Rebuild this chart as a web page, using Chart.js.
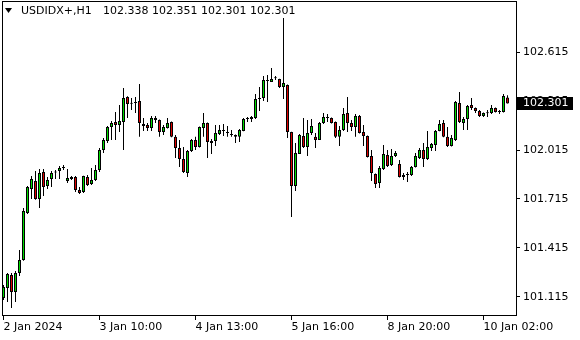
<!DOCTYPE html>
<html><head><meta charset="utf-8">
<script src="https://cdn.jsdelivr.net/npm/chart.js@4.4.1/dist/chart.umd.min.js"></script>
<style>html,body{margin:0;padding:0;background:#fff;overflow:hidden}#wrap{width:580px;height:340px;position:relative}</style>
</head><body><div id="wrap"><canvas id="c" width="580" height="340"></canvas></div>
<script>
const symbol = "USDIDX+,H1";
const opens = [101.107,101.169,101.248,101.144,101.261,101.340,101.629,101.776,101.825,101.715,
101.881,101.795,101.838,101.878,101.887,101.905,101.825,101.850,101.850,101.770,
101.758,101.850,101.807,101.831,101.893,102.016,102.071,102.157,102.187,102.169,
102.187,102.341,102.300,102.304,102.316,102.175,102.169,102.151,102.200,102.200,
102.126,102.151,102.187,102.096,102.028,101.960,101.874,102.009,102.077,102.034,
102.151,102.181,102.059,102.071,102.114,102.132,102.122,102.114,102.108,102.096,
102.132,102.206,102.206,102.212,102.329,102.335,102.439,102.433,102.456,102.451,
102.402,102.415,102.126,101.795,101.991,102.102,102.034,102.120,102.096,102.077,
102.181,102.212,102.212,102.187,102.096,102.138,102.243,102.181,102.157,102.224,
102.126,102.102,101.979,101.868,101.813,101.899,101.985,101.924,101.979,101.930,
101.850,101.862,101.862,101.911,101.966,102.016,101.960,102.028,102.046,102.132,
102.181,102.096,102.040,102.077,102.304,102.181,102.206,102.292,102.273,102.255,
102.224,102.241,102.243,102.273,102.249,102.249,102.338];
const highs = [101.187,101.261,101.261,101.273,101.402,101.660,101.795,101.856,101.887,101.899,
101.899,101.850,101.887,101.893,101.917,101.924,101.899,101.856,101.856,101.788,
101.858,101.862,101.905,101.924,102.028,102.089,102.163,102.194,102.249,102.292,
102.396,102.345,102.335,102.341,102.421,102.212,102.181,102.224,102.224,102.203,
102.169,102.212,102.190,102.108,102.077,102.034,102.016,102.083,102.096,102.160,
102.243,102.184,102.083,102.169,102.169,102.175,102.163,102.138,102.110,102.145,
102.212,102.218,102.224,102.359,102.402,102.470,102.476,102.519,102.470,102.453,
102.826,102.418,102.128,102.059,102.114,102.212,102.200,102.206,102.120,102.187,
102.243,102.237,102.215,102.190,102.163,102.273,102.341,102.200,102.237,102.230,
102.169,102.105,102.016,101.871,101.917,102.046,102.016,102.022,102.009,101.954,
101.874,101.881,101.917,101.997,102.028,102.059,102.132,102.059,102.138,102.200,
102.200,102.157,102.108,102.316,102.372,102.218,102.292,102.335,102.276,102.261,
102.246,102.261,102.292,102.276,102.261,102.359,102.351];
const lows = [101.095,101.082,101.046,101.082,101.242,101.335,101.623,101.715,101.710,101.660,
101.733,101.776,101.788,101.838,101.838,101.893,101.813,101.831,101.758,101.745,
101.752,101.795,101.801,101.825,101.881,101.997,102.059,102.077,102.077,102.126,
102.016,102.212,102.261,102.243,102.096,102.132,102.132,102.132,102.181,102.096,
102.108,102.148,102.093,101.966,101.911,101.874,101.850,102.003,102.016,102.031,
102.096,101.966,101.991,102.040,102.108,102.102,102.096,102.096,102.059,102.065,
102.130,102.187,102.187,102.206,102.255,102.316,102.310,102.433,102.445,102.396,
102.329,102.089,101.604,101.764,101.991,102.028,101.979,102.108,102.028,102.077,
102.175,102.187,102.178,102.089,102.040,102.132,102.126,102.132,102.096,102.117,
102.040,101.970,101.825,101.782,101.782,101.893,101.911,101.917,101.973,101.847,
101.831,101.819,101.856,101.908,101.960,101.911,101.954,102.009,102.009,102.130,
102.093,102.034,102.037,102.071,102.181,102.138,102.138,102.261,102.243,102.218,
102.218,102.218,102.237,102.246,102.237,102.246,102.301];
const closes = [101.175,101.254,101.144,101.261,101.340,101.641,101.788,101.838,101.715,101.874,
101.788,101.831,101.874,101.882,101.905,101.906,101.844,101.838,101.770,101.752,
101.856,101.801,101.831,101.893,102.016,102.077,102.157,102.181,102.169,102.194,
102.335,102.298,102.304,102.310,102.181,102.163,102.151,102.212,102.212,102.126,
102.157,102.181,102.096,102.028,101.960,101.881,102.009,102.077,102.034,102.157,
102.181,102.065,102.071,102.120,102.138,102.138,102.120,102.108,102.096,102.138,
102.206,102.212,102.218,102.329,102.333,102.445,102.445,102.451,102.458,102.402,
102.427,102.126,101.795,101.997,102.108,102.034,102.120,102.163,102.077,102.181,
102.218,102.218,102.181,102.096,102.138,102.237,102.181,102.157,102.224,102.120,
102.102,101.973,101.874,101.807,101.905,101.991,101.917,101.979,101.997,101.850,
101.862,101.864,101.911,101.979,102.016,101.960,102.034,102.052,102.132,102.175,
102.096,102.040,102.089,102.310,102.187,102.206,102.286,102.273,102.255,102.224,
102.243,102.243,102.273,102.249,102.250,102.347,102.301];
const xTickIndex = [0, 24, 48, 72, 96, 120];
const xTickLabels = ["2 Jan 2024", "3 Jan 10:00", "4 Jan 13:00", "5 Jan 16:00", "8 Jan 20:00", "10 Jan 02:00"];
const yTicks = [101.115, 101.415, 101.715, 102.015, 102.315, 102.615];

const FONT = {family: 'DejaVu Sans', size: 11};
const BULL = '#00dc00', BEAR = '#dc0000';
const n = closes.length;
const last = n - 1;

const wickData = closes.map((_, i) => ({x: i, y: [lows[i], highs[i]]}));
const bodyData = closes.map((_, i) => ({x: i, y: [opens[i], closes[i]]}));
const bodyColors = closes.map((c, i) => c >= opens[i] ? BULL : BEAR);

const framePlugin = {
  id: 'frame',
  beforeDatasetsDraw(chart) {
    const {ctx, chartArea: a} = chart;
    ctx.save();
    ctx.strokeStyle = '#000';
    ctx.lineWidth = 1;
    ctx.strokeRect(Math.round(a.left) + 0.5, Math.round(a.top) + 0.5,
                   Math.round(a.right - a.left), Math.round(a.bottom - a.top) - 1);
    ctx.restore();
  },
  afterDraw(chart) {
    const {ctx} = chart;
    const ys = chart.scales.y;
    ctx.save();
    ctx.fillStyle = '#000';
    ctx.beginPath();
    ctx.moveTo(5, 8); ctx.lineTo(12, 8); ctx.lineTo(8.5, 13); ctx.closePath(); ctx.fill();
    ctx.font = '11px "DejaVu Sans"';
    ctx.textBaseline = 'middle';
    ctx.textAlign = 'left';
    ctx.fillText(symbol, 21, 11);
    ctx.fillText([opens[last], highs[last], lows[last], closes[last]].map(v => v.toFixed(3)).join(' '), 103, 11);
    const py = Math.round(ys.getPixelForValue(closes[last]));
    ctx.fillStyle = '#000';
    ctx.fillRect(517, py - 6, 56, 13);
    ctx.fillStyle = '#fff';
    ctx.fillText(closes[last].toFixed(3), 523, py + 0.5);
    ctx.restore();
  }
};

new Chart(document.getElementById('c'), {
  type: 'bar',
  data: {
    datasets: [
      {data: bodyData, backgroundColor: bodyColors, borderColor: '#000', borderWidth: 1,
       borderSkipped: false, barThickness: 3, minBarLength: 1, grouped: false, order: 0, inflateAmount: 0},
      {data: wickData, backgroundColor: '#000', borderWidth: 0,
       barThickness: 1, grouped: false, order: 1, inflateAmount: 0}
    ]
  },
  options: {
    responsive: false, animation: false, devicePixelRatio: 1,
    layout: {padding: {left: 2, top: 1, right: 0, bottom: 0}},
    plugins: {legend: {display: false}, tooltip: {enabled: false}},
    scales: {
      x: {
        type: 'linear', min: -0.375, max: 128.125, position: 'bottom', offset: false,
        afterBuildTicks: s => { s.ticks = xTickIndex.map(v => ({value: v})); },
        afterFit: s => { s.height = 24; s.paddingLeft = 0; s.paddingRight = 0; },
        ticks: {autoSkip: false, maxRotation: 0, minRotation: 0, align: 'start', padding: 1,
                color: '#000', font: FONT,
                callback: v => xTickLabels[xTickIndex.indexOf(v)]},
        grid: {display: true, offset: false, drawOnChartArea: false, drawTicks: true, tickLength: 4, color: '#000', lineWidth: 1},
        border: {display: false}
      },
      y: {
        type: 'linear', position: 'right', min: 100.9965, max: 102.9299,
        afterBuildTicks: s => { s.ticks = yTicks.map(v => ({value: v})); },
        afterFit: s => { s.width = 64; s.paddingTop = 0; s.paddingBottom = 0; },
        ticks: {color: '#000', font: FONT, padding: 3, callback: v => v.toFixed(3)},
        grid: {display: true, drawOnChartArea: false, drawTicks: true, tickLength: 4, color: '#000', lineWidth: 1},
        border: {display: false}
      }
    }
  },
  plugins: [framePlugin]
});
</script>
</body></html>
